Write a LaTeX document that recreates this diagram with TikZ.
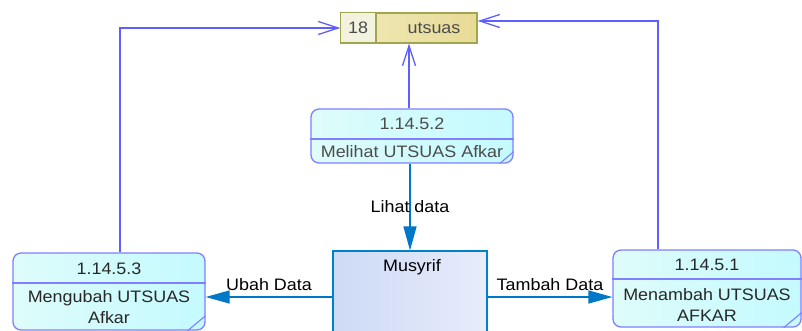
\documentclass[tikz,border=0pt]{standalone}
\usepackage{fontspec}
\setmainfont{Liberation Sans}[FakeStretch=1.08]
\usetikzlibrary{arrows.meta,calc}

\definecolor{procline}{RGB}{128,128,255}
\definecolor{procfillA}{RGB}{222,252,250}
\definecolor{procfillB}{RGB}{196,250,255}
\definecolor{storeline}{RGB}{160,165,80}
\definecolor{storeleft}{RGB}{242,242,222}
\definecolor{storefillA}{RGB}{240,234,185}
\definecolor{storefillB}{RGB}{232,218,150}
\definecolor{musline}{RGB}{0,130,200}
\definecolor{musfillA}{RGB}{205,218,245}
\definecolor{musfillB}{RGB}{232,236,252}
\definecolor{storearrow}{RGB}{95,95,255}
\definecolor{flowarrow}{RGB}{0,120,200}
\definecolor{proctext}{RGB}{40,40,40}

\begin{document}
\begin{tikzpicture}[x=1pt, y=-1pt,
  font=\fontsize{16.6}{21}\selectfont,
  proc/.style={draw=procline, line width=1.3pt, rounded corners=8pt,
    left color=procfillA, right color=procfillB, inner sep=0pt},
  ptext/.style={text=proctext, inner sep=0pt},
  storebox/.style={draw=storeline, line width=1.3pt, inner sep=0pt,
    left color=storefillA, right color=storefillB},
  musbox/.style={draw=musline, line width=1.2pt, inner sep=0pt,
    left color=musfillA, right color=musfillB},
  toStore/.style={draw=storearrow, line width=1.3pt,
    -{Straight Barb[length=20pt, width=13pt, line width=1.3pt]}},
  flow/.style={draw=flowarrow, line width=1.3pt,
    -{Triangle[length=24pt, width=13pt]}},
  flowlabel/.style={text=black, inner sep=2pt}]

\useasboundingbox (0,0) rectangle (802,331);
\fill[white] (0,0) rectangle (802,331);

% data store
\node[storebox, minimum width=136pt, minimum height=30pt] (ds) at (409,28) {};
\filldraw[fill=storeleft, draw=storeline, line width=1.3pt] (ds.north west) rectangle (376,43);
\node[text=black!70, inner sep=0pt] (dsnum) at (358,28) {18};
\node[text=black!70, inner sep=0pt] (dsname) at (434,28) {utsuas};

% processes
\node[proc, minimum width=202pt, minimum height=54pt] (p2) at (412,136) {};
\draw[procline, line width=1.3pt] (p2.west |- 0,139) -- (p2.east |- 0,139);
\draw[procline, line width=1.1pt] ([xshift=-14pt]p2.south east) -- ([yshift=12pt]p2.south east);
\node[ptext, text=black!70] (p2num) at (412,124) {1.14.5.2};
\node[ptext, text=black!70] (p2name) at (412,152) {Melihat UTSUAS Afkar};

\node[proc, minimum width=192pt, minimum height=77pt] (p3) at (109,291.5) {};
\draw[procline, line width=1.3pt] (p3.west |- 0,283) -- (p3.east |- 0,283);
\draw[procline, line width=1.1pt] ([xshift=-18pt]p3.south east) -- ([yshift=15pt]p3.south east);
\node[ptext] (p3num) at (109,269) {1.14.5.3};
\node[ptext, align=center] (p3name) at (109,307.5) {Mengubah UTSUAS\\Afkar};

\node[proc, minimum width=188pt, minimum height=77pt] (p1) at (707,288.5) {};
\draw[procline, line width=1.3pt] (p1.west |- 0,279) -- (p1.east |- 0,279);
\draw[procline, line width=1.1pt] ([xshift=-18pt]p1.south east) -- ([yshift=15pt]p1.south east);
\node[ptext] (p1num) at (707,265) {1.14.5.1};
\node[ptext, align=center] (p1name) at (707,305) {Menambah UTSUAS\\AFKAR};

% external entity
\node[musbox, minimum width=154pt, minimum height=92pt] (mus) at (410,297) {};
\node[inner sep=0pt] (muslabel) at (412,267) {Musyrif};

% flows
\draw[toStore] ([xshift=11pt]p3.north) |- (ds.west);
\draw[toStore] ([xshift=-49pt]p1.north) |- ([yshift=7pt]ds.east);
\draw[toStore] (ds.south |- p2.north) -- (ds.south);

\draw[flow] (p2.south -| mus.north) -- node[flowlabel] {Lihat data} (mus.north);
\draw[flow] (mus.west) -- node[flowlabel, above, yshift=4pt] {Ubah Data} (p3.east |- mus.west);
\draw[flow] (mus.east) -- node[flowlabel, above, yshift=4pt] {Tambah Data} (p1.west |- mus.east);
\end{tikzpicture}
\end{document}
